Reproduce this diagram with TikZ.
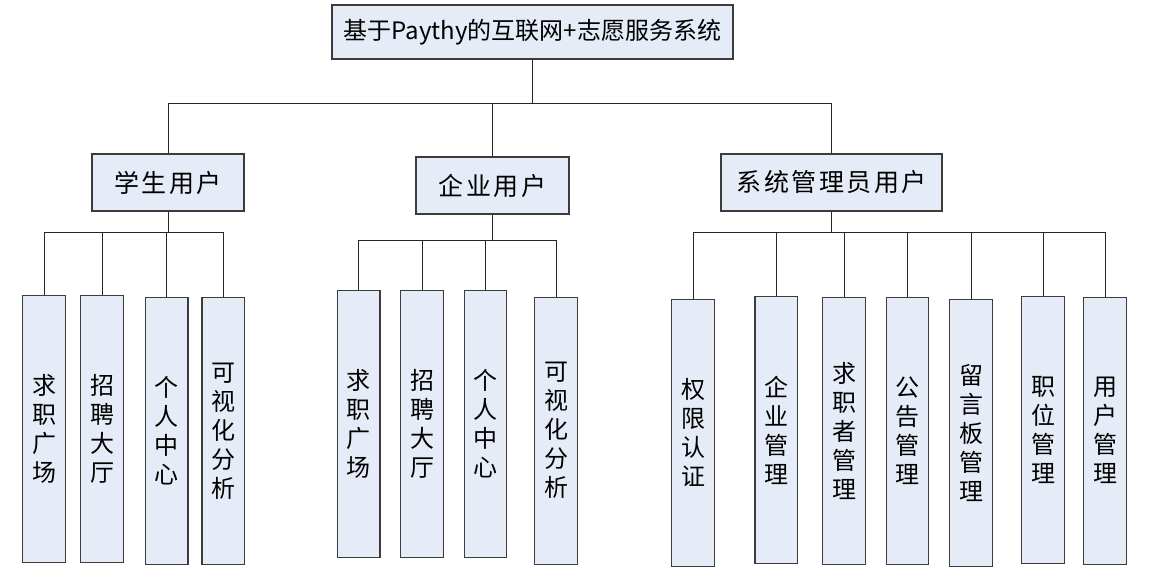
\documentclass[tikz,border=0pt]{standalone}
\usepackage{fontspec}
\newfontfamily\cjk{Noto Sans CJK SC}
\newfontfamily\cjkwide[LetterSpace=10]{Noto Sans CJK SC}
\definecolor{boxfill}{HTML}{E6ECF7}
\definecolor{boxline}{HTML}{3C3C3C}
\begin{document}
\begin{tikzpicture}
            [x=1pt,y=-1pt,
             Box/.style={draw=boxline,line width=1.2pt,fill=boxfill,inner sep=0pt},
             Root/.style={Box,minimum width=401pt,minimum height=54pt,font={\cjk\fontsize{24}{28}\selectfont}},
             Group/.style={Box,minimum height=57pt,font={\cjkwide\fontsize{25}{30}\selectfont}},
             Leaf/.style={Box,anchor=north,minimum width=42.6pt,minimum height=267pt,align=center,font={\cjk\fontsize{24}{29}\selectfont}},
             Link/.style={draw=black!85,line width=1pt}]
            \useasboundingbox (0,0) rectangle (1156,588);

            \node[Root] (sys) at (532.5,32) {基于Paythy的互联网+志愿服务系统};

            \node[Group,minimum width=152pt] (stu) at (168,182.5) {学生用户};
            \node[Group,minimum width=153pt] (com) at (492.5,185.5) {企业用户};
            \node[Group,minimum width=221pt] (adm) at (831.5,182.5) {系统管理员用户};

            \node[Leaf] (s1) at (44,295) {求\\职\\广\\场};
            \node[Leaf] (s2) at (102,295) {招\\聘\\大\\厅};
            \node[Leaf] (s3) at (166.7,296.5) {个\\人\\中\\心};
            \node[Leaf] (s4) at (223.3,297) {可\\视\\化\\分\\析};

            \node[Leaf] (c1) at (358.7,289.5) {求\\职\\广\\场};
            \node[Leaf] (c2) at (422,289.5) {招\\聘\\大\\厅};
            \node[Leaf] (c3) at (485.5,289.5) {个\\人\\中\\心};
            \node[Leaf] (c4) at (556,296.5) {可\\视\\化\\分\\析};

            \node[Leaf] (a1) at (693,298.7) {权\\限\\认\\证};
            \node[Leaf] (a2) at (776.2,296) {企\\业\\管\\理};
            \node[Leaf] (a3) at (844,296.5) {求\\职\\者\\管\\理};
            \node[Leaf] (a4) at (907.5,296.5) {公\\告\\管\\理};
            \node[Leaf] (a5) at (971,298.7) {留\\言\\板\\管\\理};
            \node[Leaf] (a6) at (1043,296) {职\\位\\管\\理};
            \node[Leaf] (a7) at (1105,296.5) {用\\户\\管\\理};

            % top level
            \foreach \g in {stu,com,adm}
                \draw[Link] (sys.south) -- ++(0,44) -| (\g.north);

            % second level
            \foreach \n in {s1,s2,s3,s4}
                \draw[Link] (stu.south) -- ++(0,21) -| (\n.north);
            \foreach \n in {c1,c2,c3,c4}
                \draw[Link] (com.south) -- ++(0,26) -| (\n.north);
            \foreach \n in {a1,a2,a3,a4,a5,a6,a7}
                \draw[Link] (adm.south) -- ++(0,21) -| (\n.north);
        \end{tikzpicture}
\end{document}
